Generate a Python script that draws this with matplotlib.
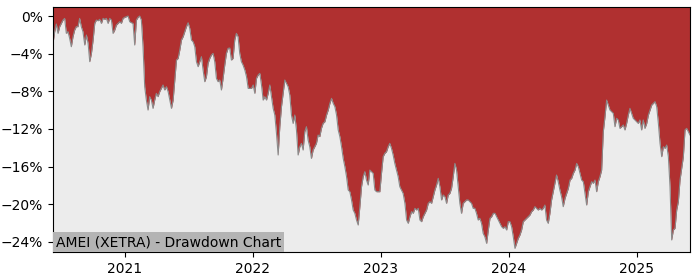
import numpy as np
import pandas as pd
import matplotlib
matplotlib.use("Agg")
import matplotlib.pyplot as plt
import matplotlib.dates as mdates
from matplotlib.ticker import FuncFormatter

# decimal years and drawdown values (%)
years_a = [2020.440, 2020.453, 2020.466, 2020.479, 2020.492, 2020.505, 2020.518, 2020.531, 2020.544, 2020.557,
           2020.570, 2020.583, 2020.596, 2020.609, 2020.622, 2020.635, 2020.648, 2020.661, 2020.674, 2020.688,
           2020.701, 2020.714, 2020.727, 2020.740, 2020.753, 2020.766, 2020.779, 2020.792, 2020.805, 2020.818,
           2020.831, 2020.844, 2020.857, 2020.870, 2020.883, 2020.896, 2020.909, 2020.922, 2020.935, 2020.948,
           2020.961, 2020.974, 2020.987, 2021.000, 2021.013, 2021.026, 2021.039, 2021.052, 2021.065, 2021.078,
           2021.091, 2021.104, 2021.117, 2021.130, 2021.143, 2021.156, 2021.169, 2021.182, 2021.195, 2021.208,
           2021.221, 2021.234, 2021.247, 2021.260, 2021.273, 2021.286, 2021.299, 2021.312, 2021.326, 2021.339,
           2021.352, 2021.365, 2021.378, 2021.391, 2021.404, 2021.417, 2021.430, 2021.443, 2021.456, 2021.469,
           2021.482, 2021.495, 2021.508, 2021.521, 2021.534, 2021.547, 2021.560, 2021.573, 2021.586, 2021.599,
           2021.612, 2021.625, 2021.638, 2021.651, 2021.664, 2021.677, 2021.690, 2021.703, 2021.716, 2021.729,
           2021.742, 2021.755, 2021.768, 2021.781, 2021.794, 2021.807, 2021.820]
dd_a = [-2.90, -1.66, -0.85, -1.84, -1.13, -0.78, -0.43, -0.25, -1.84, -1.66,
        -2.37, -3.26, -2.20, -1.49, -1.13, -1.13, -0.25, -1.13, -1.66, -3.08,
        -2.02, -2.90, -4.85, -3.97, -2.55, -0.78, -0.43, -0.50, -0.35, -0.78,
        -0.25, -0.35, -0.25, -0.78, -0.25, -0.43, -1.84, -1.49, -0.96, -0.78,
        -0.60, -0.78, -0.25, -0.14, -0.07, 0.00, -0.60, -0.71, -0.78, -3.08,
        -0.43, -0.14, 0.00, -0.43, -3.26, -7.51, -8.93, -9.99, -8.57, -8.93,
        -9.81, -8.93, -8.22, -8.57, -8.04, -7.69, -7.33, -7.86, -7.51, -8.04,
        -8.93, -9.81, -8.93, -6.80, -4.68, -4.50, -3.61, -2.55, -2.20, -1.66,
        -1.13, -0.71, -1.31, -2.55, -2.73, -3.26, -4.85, -5.38, -4.85, -4.32,
        -5.74, -6.98, -6.45, -5.03, -4.50, -4.14, -3.97, -4.85, -6.62, -6.98,
        -6.80, -7.86, -6.62, -5.21, -3.97, -3.44, -3.40]

years_b = [2021.833, 2021.846, 2021.859, 2021.872, 2021.885, 2021.898, 2021.911, 2021.924, 2021.938, 2021.951,
           2021.964, 2021.977, 2021.990, 2022.003, 2022.016, 2022.029, 2022.042, 2022.055, 2022.068, 2022.081,
           2022.094, 2022.107, 2022.120, 2022.133, 2022.146, 2022.159, 2022.172, 2022.185, 2022.198, 2022.211,
           2022.224, 2022.237, 2022.250, 2022.263, 2022.276, 2022.289, 2022.302, 2022.315, 2022.328, 2022.341,
           2022.354, 2022.367, 2022.380, 2022.393, 2022.406, 2022.419, 2022.432, 2022.445, 2022.458, 2022.471,
           2022.484, 2022.497, 2022.510, 2022.523, 2022.536, 2022.549, 2022.563, 2022.576, 2022.589, 2022.602,
           2022.615, 2022.628, 2022.641, 2022.654, 2022.667, 2022.680, 2022.693, 2022.706, 2022.719, 2022.732,
           2022.745, 2022.758, 2022.771, 2022.784, 2022.797, 2022.810, 2022.823, 2022.836, 2022.849, 2022.862,
           2022.875, 2022.888, 2022.901, 2022.914, 2022.927, 2022.940, 2022.953, 2022.966, 2022.979, 2022.992,
           2023.005, 2023.018, 2023.031, 2023.044, 2023.057, 2023.070, 2023.083, 2023.096, 2023.109, 2023.122,
           2023.135, 2023.148, 2023.161, 2023.174, 2023.188, 2023.201, 2023.214, 2023.227, 2023.240, 2023.253,
           2023.266, 2023.279, 2023.292, 2023.305, 2023.318, 2023.331, 2023.344, 2023.357, 2023.370, 2023.383,
           2023.396, 2023.409, 2023.422, 2023.435, 2023.448, 2023.461, 2023.474, 2023.487, 2023.500, 2023.513,
           2023.526, 2023.539, 2023.552, 2023.565, 2023.578, 2023.591, 2023.604, 2023.617]
dd_b = [-4.68, -4.50, -2.55, -1.84, -2.20, -3.97, -4.85, -5.21, -5.74, -6.45,
        -7.69, -7.69, -7.69, -7.33, -8.22, -6.62, -6.27, -6.09, -7.33, -8.93,
        -8.57, -8.93, -8.22, -7.33, -8.57, -9.81, -10.52, -12.47, -14.77, -11.76,
        -9.63, -8.22, -6.80, -7.16, -7.51, -8.40, -10.52, -11.41, -10.52, -12.11,
        -14.77, -13.89, -13.53, -14.24, -12.29, -11.76, -13.18, -13.89, -15.13, -14.24,
        -13.89, -13.53, -12.65, -12.82, -11.94, -11.41, -11.23, -10.52, -9.99, -9.28,
        -8.75, -9.28, -9.63, -10.52, -12.11, -12.82, -13.89, -15.13, -16.01, -17.07,
        -18.49, -18.67, -19.55, -20.62, -20.97, -21.68, -22.21, -20.26, -18.14, -17.07,
        -16.54, -17.43, -17.96, -16.37, -16.54, -16.72, -18.49, -18.67, -18.67, -18.67,
        -16.72, -14.95, -14.59, -14.42, -13.89, -13.53, -14.06, -14.77, -15.66, -16.37,
        -17.07, -18.14, -18.49, -18.85, -19.91, -21.68, -22.03, -21.33, -20.79, -20.97,
        -20.44, -20.62, -20.44, -21.68, -21.86, -21.33, -20.97, -20.62, -19.91, -19.73,
        -19.91, -19.20, -18.49, -17.96, -17.25, -18.14, -19.55, -19.02, -19.20, -19.91,
        -19.02, -18.85, -18.31, -17.07, -15.66, -16.37, -18.14, -19.91]

years_c = [2023.630, 2023.643, 2023.656, 2023.669, 2023.682, 2023.695, 2023.708, 2023.721, 2023.734, 2023.747,
           2023.760, 2023.773, 2023.786, 2023.799, 2023.812, 2023.826, 2023.839, 2023.852, 2023.865, 2023.878,
           2023.891, 2023.904, 2023.917, 2023.930, 2023.943, 2023.956, 2023.969, 2023.982, 2023.995, 2024.008,
           2024.021, 2024.034, 2024.047, 2024.060, 2024.073, 2024.086, 2024.099, 2024.112, 2024.125, 2024.138,
           2024.151, 2024.164, 2024.177, 2024.190, 2024.203, 2024.216, 2024.229, 2024.242, 2024.255, 2024.268,
           2024.281, 2024.294, 2024.307, 2024.320, 2024.333, 2024.346, 2024.359, 2024.372, 2024.385, 2024.398,
           2024.411, 2024.424, 2024.438, 2024.451, 2024.464, 2024.477, 2024.490, 2024.503, 2024.516, 2024.529,
           2024.542, 2024.555, 2024.568, 2024.581, 2024.594, 2024.607, 2024.620, 2024.633, 2024.646, 2024.659,
           2024.672, 2024.685, 2024.698, 2024.711, 2024.724, 2024.737, 2024.750, 2024.763, 2024.776, 2024.789,
           2024.802, 2024.815, 2024.828, 2024.841, 2024.854, 2024.867, 2024.880, 2024.893, 2024.906, 2024.919,
           2024.932, 2024.945, 2024.958, 2024.971, 2024.984, 2024.997, 2025.010, 2025.023, 2025.036, 2025.049,
           2025.062, 2025.076, 2025.089, 2025.102, 2025.115, 2025.128, 2025.141, 2025.154, 2025.167, 2025.180,
           2025.193, 2025.206, 2025.219, 2025.232, 2025.245, 2025.258, 2025.271, 2025.284, 2025.297, 2025.310,
           2025.323, 2025.336, 2025.349, 2025.362, 2025.375, 2025.388, 2025.401, 2025.414]
dd_c = [-20.97, -19.91, -19.73, -19.55, -19.55, -19.73, -19.91, -20.44, -20.44, -20.97,
        -21.68, -21.50, -22.03, -23.10, -23.45, -24.16, -22.74, -21.50, -21.33, -20.97,
        -20.97, -21.33, -21.68, -22.03, -22.39, -22.56, -22.39, -22.74, -21.86, -21.86,
        -22.39, -23.45, -24.69, -24.16, -23.63, -23.27, -22.74, -21.86, -21.68, -21.50,
        -21.33, -21.15, -20.79, -20.62, -20.26, -20.44, -20.62, -20.44, -20.62, -20.44,
        -20.09, -21.68, -22.03, -20.97, -19.55, -18.67, -17.78, -16.90, -17.61, -18.49,
        -19.20, -20.26, -19.38, -18.85, -18.31, -17.43, -17.25, -16.72, -16.37, -15.66,
        -16.01, -16.72, -17.43, -17.61, -18.85, -20.09, -18.67, -18.14, -17.61, -17.78,
        -17.43, -18.67, -17.61, -17.07, -16.37, -12.29, -10.70, -8.93, -9.46, -9.99,
        -10.17, -10.34, -11.76, -10.87, -11.05, -11.94, -11.76, -11.58, -12.11, -11.41,
        -10.52, -9.81, -10.34, -10.87, -11.05, -11.23, -11.41, -11.05, -12.11, -11.05,
        -11.94, -11.41, -10.52, -9.99, -9.46, -9.28, -9.10, -9.63, -11.41, -13.53,
        -14.95, -13.89, -14.06, -13.71, -14.95, -18.14, -23.80, -22.74, -22.56, -20.62,
        -19.73, -17.43, -16.19, -14.95, -12.11, -11.94, -12.29, -12.65]

title = "AMEI (XETRA) - Drawdown Chart"
y_ticks = [0, -4, -8, -12, -16, -20, -24]
y_limits = (-25.08, 0.96)

years = np.array(years_a + years_b + years_c)
dd = np.array(dd_a + dd_b + dd_c)
base = pd.Timestamp("2021-01-01")
dates = base + pd.to_timedelta((years - 2021.0) * 365.25, unit="D")

fig = plt.figure(figsize=(7.0, 2.8), dpi=100)
ax = fig.add_axes([53 / 700, 1 - 252 / 280, (690 - 53) / 700, (252 - 7) / 280])
ax.set_facecolor("#ececec")
ax.fill_between(dates, dd, y_limits[1] + 1, color="#b03030", linewidth=0)
ax.plot(dates, dd, color="#8a8a8a", linewidth=0.8)

ax.set_xlim(dates.min(), dates.max())
ax.set_ylim(*y_limits)
ax.set_yticks(y_ticks)
ax.yaxis.set_major_formatter(FuncFormatter(lambda v, p: f"{v:.0f}%".replace("-", "\u2212")))
ax.xaxis.set_major_locator(mdates.YearLocator())
ax.xaxis.set_major_formatter(mdates.DateFormatter("%Y"))
ax.tick_params(labelsize=10)

ax.text(0.004, 0.012, title, transform=ax.transAxes, fontsize=10, ha="left", va="bottom",
        bbox=dict(boxstyle="square,pad=0.2", facecolor="#b4b4b4", edgecolor="none"))

fig.savefig("out.png", dpi=100)
